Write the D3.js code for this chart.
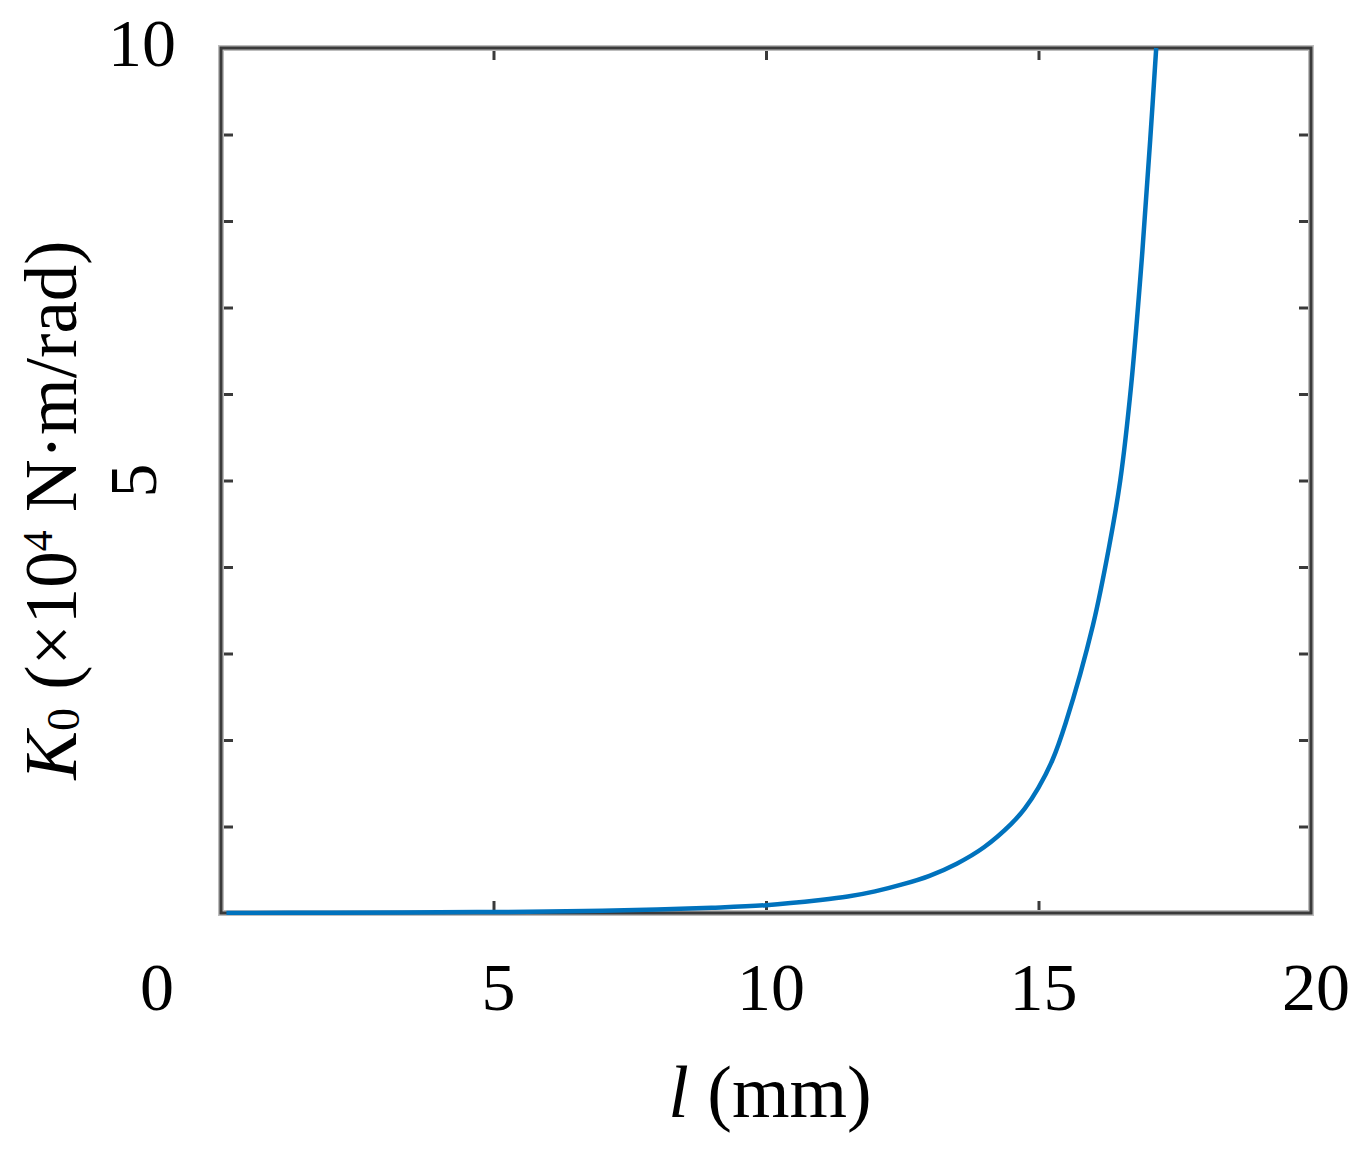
<!DOCTYPE html>
<html><head><meta charset="utf-8">
<script src="https://cdn.jsdelivr.net/npm/d3@7"></script>
<style>body{margin:0;background:#fff;} text{font-family:"Liberation Serif","DejaVu Serif",serif;fill:#000;}</style>
</head><body>
<svg id="chart" width="1369" height="1154"></svg>
<script>
// data
const lengthMM = [0.1, 2, 4, 6, 7, 8, 9, 10, 11, 11.5, 12, 12.5, 13, 13.5, 14, 14.5, 14.75, 15, 15.25, 15.5, 16, 16.3, 16.5, 16.7, 16.9, 17.05, 17.16];
const stiffness = [0, 0.003, 0.008, 0.016, 0.026, 0.04, 0.06, 0.09, 0.15, 0.19, 0.25, 0.33, 0.43, 0.57, 0.76, 1.03, 1.21, 1.45, 1.76, 2.2, 3.33, 4.25, 5.0, 6.1, 7.6, 8.94, 10.0];
const xTicks = [0, 5, 10, 15, 20];
const xTickLabels = ["0", "5", "10", "15", "20"];
const yTicks = [1, 2, 3, 4, 5, 6, 7, 8, 9];
const yTickLabels = [{v: 10, t: "10"}, {v: 5, t: "5"}];

(function () {
const svg = d3.select("#chart");
const L = 221, R = 1311, T = 48, B = 913;
const x = d3.scaleLinear().domain([0, 20]).range([L, R]);
const y = d3.scaleLinear().domain([0, 10]).range([B, T]);

svg.append("defs").append("clipPath").attr("id", "clip")
  .append("rect").attr("x", L).attr("y", T - 2).attr("width", R - L).attr("height", B - T + 4);

const axisColor = "#3a3a3a";
const tickLen = 12;

// ticks via d3 axes (inner)
const g = svg.append("g");
g.append("g").attr("transform", `translate(0,${B})`)
  .call(d3.axisTop(x).tickValues(xTicks.slice(1, 4)).tickSize(tickLen).tickFormat(""));
g.append("g").attr("transform", `translate(0,${T})`)
  .call(d3.axisBottom(x).tickValues(xTicks.slice(1, 4)).tickSize(tickLen).tickFormat(""));
g.append("g").attr("transform", `translate(${L},0)`)
  .call(d3.axisRight(y).tickValues(yTicks).tickSize(tickLen).tickFormat(""));
g.append("g").attr("transform", `translate(${R},0)`)
  .call(d3.axisLeft(y).tickValues(yTicks).tickSize(tickLen).tickFormat(""));
g.selectAll(".domain").remove();
g.selectAll(".tick line").attr("stroke", axisColor).attr("stroke-width", 3);

// box
svg.append("rect").attr("x", L).attr("y", T).attr("width", R - L).attr("height", B - T)
  .attr("fill", "none").attr("stroke", "#bdbdbd").attr("stroke-width", 6);
svg.append("rect").attr("x", L).attr("y", T).attr("width", R - L).attr("height", B - T)
  .attr("fill", "none").attr("stroke", axisColor).attr("stroke-width", 3);

// curve
const line = d3.line().x((d, i) => x(lengthMM[i])).y(d => y(d)).curve(d3.curveCatmullRom.alpha(0.5));
svg.append("path").datum(stiffness).attr("d", line)
  .attr("clip-path", "url(#clip)")
  .attr("fill", "none").attr("stroke", "#0072BD").attr("stroke-width", 4.5);

// x tick labels
const fs = 68;
svg.selectAll(".xl").data(xTicks).enter().append("text")
  .attr("x", (d, i) => i === 0 ? x(d) - 64 : x(d) + 5)
  .attr("y", 1010).attr("text-anchor", "middle").attr("font-size", fs)
  .text((d, i) => xTickLabels[i]);

// y tick labels
svg.append("text").attr("x", 142).attr("y", y(yTickLabels[0].v) + 18).attr("text-anchor", "middle")
  .attr("font-size", fs).text(yTickLabels[0].t);
svg.append("text").attr("transform", `translate(156,${y(yTickLabels[1].v)}) rotate(-90)`)
  .attr("text-anchor", "middle").attr("font-size", fs).text(yTickLabels[1].t);

// x title
const xt = svg.append("text").attr("x", 770).attr("y", 1117).attr("text-anchor", "middle").attr("font-size", 74);
xt.append("tspan").attr("font-style", "italic").text("l");
xt.append("tspan").text(" (mm)");

// y title
const yt = svg.append("text").attr("transform", `translate(76,510) rotate(-90)`)
  .attr("text-anchor", "middle").attr("font-size", 73);
yt.append("tspan").attr("font-style", "italic").text("K");
yt.append("tspan").attr("font-size", 46).attr("dy", 3).text("0");
yt.append("tspan").attr("dy", -3).text(" (×10");
yt.append("tspan").attr("font-size", 42).attr("dy", -24).text("4");
yt.append("tspan").attr("dy", 24).text(" N·m/rad)");
})();
</script>
</body></html>
